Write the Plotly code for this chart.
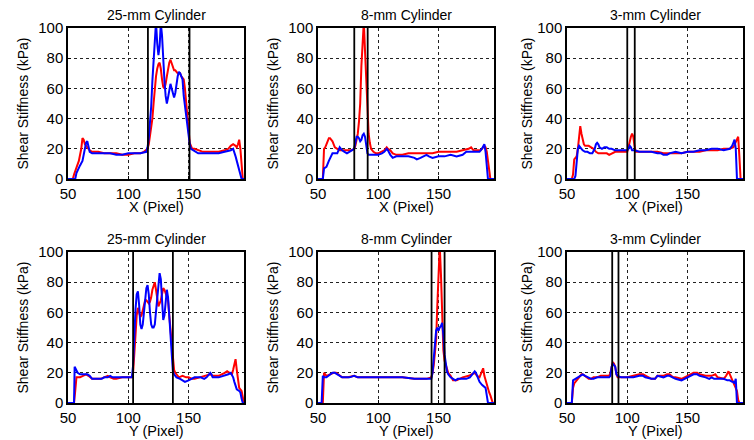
import plotly.graph_objects as go

# ---------------- data (pixel position, shear stiffness kPa) ----------------
titles = ["25-mm Cylinder", "8-mm Cylinder", "3-mm Cylinder",
          "25-mm Cylinder", "8-mm Cylinder", "3-mm Cylinder"]
xlabels = ["X (Pixel)"] * 3 + ["Y (Pixel)"] * 3
ylabel = "Shear Stiffness (kPa)"
xticks = [50, 100, 150]
yticks = [0, 20, 40, 60, 80, 100]

# boundaries of the inclusion (vertical black lines)
bounds = [[116.3, 150.8], [80.1, 91.2], [100.0, 106.2],
          [104.0, 137.0], [144.2, 155.0], [87.5, 92.7]]

red_25x = [(50,0),(54,0),(55,3),(57,8),(59,12),(61,20),(62,27),(63,26),(64,23),(66,21),(68,19),(70,18),(75,18),(80,17),(85,17),(90,17),(95,16),(100,16),(105,17),(110,17),(113,18),(115,19),(116,20),(117,23),(118,28),(119,34),(120,40),(121,50),(122,60),(123,68),(124,73),(125,76),(126,77),(127,73),(128,66),(129,61),(130,60),(131,63),(132,68),(133,73),(134,77),(135,79),(136,77),(137,74),(138,72),(139,72),(140,71),(141,70),(142,70),(143,70),(144,68),(145,67),(146,66),(147,60),(148,50),(149,40),(150,28),(151,24),(152,22),(153,20),(155,20),(158,19),(162,18),(170,18),(175,18),(180,19),(183,20),(185,22),(187,23),(189,22),(190,21),(191,23),(192,26),(193,20),(194,8),(195,0),(196,0)]
blue_25x = [(50,0),(56,0),(57,4),(58,6),(60,9),(62,12),(63,17),(64,22),(65,24),(66,25),(67,21),(68,18),(70,17),(75,17),(80,17),(85,17),(90,16),(95,16),(100,17),(105,17),(110,17),(115,18),(116,21),(117,27),(118,35),(119,48),(120,65),(121,82),(122,95),(123,104),(124,90),(125,82),(126,88),(127,103),(128,95),(129,78),(130,65),(131,55),(132,50),(133,54),(134,60),(135,63),(136,60),(137,56),(138,54),(139,57),(140,63),(141,68),(142,71),(143,70),(144,68),(145,66),(146,55),(147,48),(148,42),(149,35),(150,28),(151,23),(152,20),(154,19),(158,17),(165,17),(170,17),(175,17),(180,18),(185,19),(187,20),(188,18),(189,15),(190,12),(191,9),(192,5),(193,2),(194,0),(196,0)]

red_8x = [(50,0),(54,0),(55,20),(56,21),(57,23),(58,25),(59,27),(60,27),(61,26),(62,25),(63,23),(64,21),(66,20),(68,19),(70,19),(72,19),(75,19),(78,19),(80,20),(81,22),(82,26),(83,30),(84,38),(85,50),(86,75),(87,100),(88,104),(89,85),(90,62),(91,42),(92,30),(93,24),(94,20),(96,18),(98,17),(100,17),(103,18),(105,19),(107,21),(108,20),(110,19),(112,17),(115,16),(120,16),(125,17),(130,17),(135,17),(140,17),(145,17),(150,18),(155,18),(160,18),(165,18),(170,19),(175,20),(177,21),(179,19),(182,19),(185,19),(187,21),(188,22),(189,21),(190,18),(191,12),(192,5),(193,0),(196,0)]
blue_8x = [(50,0),(54,0),(55,7),(57,8),(59,12),(61,16),(62,17),(64,17),(66,17),(68,21),(69,20),(70,19),(72,18),(74,17),(76,18),(78,19),(80,20),(81,24),(82,28),(83,28),(84,27),(85,25),(86,26),(87,29),(88,30),(89,28),(90,22),(91,17),(92,16),(95,16),(100,16),(103,17),(105,18),(107,20),(108,19),(110,16),(112,14),(115,15),(120,15),(125,15),(130,14),(132,13),(135,14),(138,15),(140,16),(142,15),(145,14),(150,15),(155,15),(160,16),(165,15),(170,16),(173,18),(178,18),(184,18),(186,20),(188,23),(189,18),(190,10),(191,0),(196,0)]

red_3x = [(50,0),(54,0),(55,3),(56,13),(57,14),(58,15),(59,20),(60,28),(61,35),(62,30),(63,25),(64,23),(65,22),(68,22),(70,21),(72,20),(74,18),(76,17),(80,17),(83,17),(85,16),(88,17),(90,18),(95,18),(98,18),(100,18),(101,21),(102,25),(103,28),(104,30),(105,28),(106,22),(107,18),(110,18),(115,18),(120,18),(125,18),(130,17),(135,17),(140,17),(145,17),(150,18),(155,18),(160,18),(165,19),(170,19),(175,19),(180,20),(185,20),(188,21),(189,23),(190,25),(191,27),(192,28),(193,15),(194,0),(196,0)]
blue_3x = [(50,0),(56,0),(57,2),(58,15),(59,20),(60,22),(61,21),(62,20),(63,19),(65,18),(67,18),(69,17),(71,17),(73,20),(74,23),(75,24),(76,23),(77,21),(79,20),(81,21),(83,21),(85,20),(87,20),(90,19),(95,19),(100,19),(101,20),(102,22),(103,21),(104,19),(106,19),(110,18),(115,18),(120,18),(125,17),(128,17),(130,16),(133,16),(135,17),(140,18),(145,17),(150,18),(155,18),(160,19),(165,19),(170,20),(175,20),(180,19),(185,20),(187,22),(188,24),(189,26),(190,20),(191,0),(196,0)]

red_25y = [(50,0),(55,0),(56,8),(57,17),(60,17),(62,18),(65,19),(67,18),(70,16),(73,16),(77,16),(80,17),(83,18),(85,17),(88,16),(90,16),(95,17),(100,17),(103,17),(104,20),(105,30),(106,45),(107,58),(108,63),(109,60),(110,57),(111,58),(112,62),(113,66),(114,68),(115,68),(116,67),(117,66),(118,67),(119,70),(120,75),(121,78),(122,80),(123,75),(124,68),(125,64),(126,66),(127,68),(128,72),(129,76),(130,75),(131,73),(132,71),(133,68),(134,58),(135,48),(136,40),(137,28),(138,22),(139,20),(140,19),(142,17),(145,18),(148,17),(150,17),(153,16),(155,16),(160,17),(165,18),(168,19),(170,18),(175,18),(180,20),(182,21),(184,20),(186,19),(187,22),(188,26),(189,29),(190,22),(191,14),(192,10),(194,8),(195,4),(196,0)]
blue_25y = [(50,0),(55,0),(55.5,24),(56,23),(57,21),(58,20),(60,19),(63,19),(66,19),(68,18),(70,16),(72,16),(75,16),(78,16),(80,17),(83,17),(85,18),(87,17),(90,17),(95,17),(100,17),(103,17),(104,25),(105,45),(106,62),(107,72),(108,74),(109,65),(110,52),(111,49),(112,52),(113,60),(114,70),(115,76),(116,78),(117,72),(118,60),(119,52),(120,50),(121,50),(122,52),(123,60),(124,70),(125,80),(126,86),(127,82),(128,65),(129,55),(130,58),(131,66),(132,75),(133,70),(134,57),(135,45),(136,28),(137,21),(138,19),(140,17),(143,16),(145,15),(147,14),(150,15),(152,16),(155,17),(160,17),(163,16),(165,17),(167,19),(168,20),(169,19),(170,17),(175,17),(180,18),(183,19),(185,20),(187,17),(188,14),(189,11),(190,9),(192,8),(193,7),(194,3),(195,0),(196,0)]

red_8y = [(50,0),(54,0),(55,20),(56,19),(57,18),(60,19),(63,20),(65,20),(67,19),(70,17),(75,17),(80,18),(83,17),(85,17),(90,17),(100,17),(110,17),(120,17),(130,16),(140,16),(144,17),(145,20),(146,25),(147,32),(148,42),(149,65),(150,98),(151,104),(152,85),(153,60),(154,35),(155,28),(156,25),(157,22),(158,20),(160,18),(162,15),(165,15),(167,16),(170,17),(175,18),(178,19),(180,20),(181,19),(182,18),(184,17),(185,19),(186,22),(187,23),(188,18),(189,15),(190,12),(191,10),(192,7),(193,5),(194,3),(195,0),(196,0)]
blue_8y = [(50,0),(53,0),(54,18),(55,17),(57,17),(59,18),(62,20),(64,20),(66,19),(68,18),(70,17),(73,17),(76,17),(80,18),(83,17),(85,17),(90,17),(100,17),(110,17),(120,17),(130,16),(140,16),(144,16),(145,20),(146,28),(147,38),(148,48),(149,50),(150,48),(151,50),(152,51),(153,53),(154,45),(155,32),(156,25),(157,21),(158,19),(160,17),(162,16),(164,15),(166,16),(168,16),(170,16),(173,16),(176,17),(178,19),(180,21),(181,20),(182,18),(184,14),(186,12),(188,11),(189,10),(190,5),(191,0),(196,0)]

red_3y = [(50,0),(54,0),(55,10),(56,13),(57,14),(58,15),(60,17),(62,19),(63,19),(65,18),(67,17),(68,16),(70,16),(72,17),(75,17),(78,18),(80,18),(85,18),(86,20),(87,25),(88,27),(89,26),(90,24),(91,19),(92,17),(95,17),(100,17),(105,18),(110,19),(113,19),(115,18),(120,16),(123,16),(125,18),(130,18),(133,19),(135,19),(138,17),(140,17),(145,16),(150,18),(155,20),(158,20),(160,19),(165,18),(170,18),(173,19),(175,17),(180,16),(182,18),(184,21),(185,19),(187,15),(189,12),(190,10),(191,8),(192,2),(193,0),(196,0)]
blue_3y = [(50,0),(54,0),(55,15),(57,16),(58,17),(60,18),(62,19),(63,19),(65,18),(67,17),(70,16),(72,16),(75,17),(80,17),(85,17),(86,18),(87,24),(88,26),(89,25),(90,24),(91,19),(92,18),(95,17),(100,17),(105,17),(110,18),(113,18),(115,17),(120,16),(123,16),(125,18),(130,17),(133,18),(135,18),(138,17),(140,16),(145,15),(150,17),(155,19),(158,19),(160,18),(165,17),(168,16),(170,17),(172,16),(175,16),(180,16),(183,15),(185,15),(187,14),(188,14),(189,13),(190,16),(191,0),(196,0)]

red_series = [red_25x, red_8x, red_3x, red_25y, red_8y, red_3y]
blue_series = [blue_25x, blue_8x, blue_3x, blue_25y, blue_8y, blue_3y]

# ---------------- layout geometry ----------------
# page body has an 8px margin, so figure coords = screen coords - 8
OFF = 8
W, H = 754 - OFF, 440 - OFF
col_px = [(68, 244), (318, 494), (567, 743)]     # screen px
row_px = [(28, 179), (252, 403)]                 # screen px
ytitle_off = [46, 46, 41]
FONT = "Liberation Sans, Arial, sans-serif"


def fx(px):
    return (px - OFF) / W


def fy(py):
    return 1 - (py - OFF) / H


fig = go.Figure()
annotations = []
shapes = []

for i in range(6):
    r, c = divmod(i, 3)
    n = i + 1
    xa = "xaxis" if n == 1 else f"xaxis{n}"
    ya = "yaxis" if n == 1 else f"yaxis{n}"
    xr = "x" if n == 1 else f"x{n}"
    yr = "y" if n == 1 else f"y{n}"
    x0, x1 = col_px[c]
    top, bot = row_px[r]
    axis_common = dict(
        showline=True, mirror=True, linecolor="black", linewidth=1.5,
        showgrid=True, gridcolor="#222222", gridwidth=1, griddash="3px,3px",
        zeroline=False, ticks="inside", ticklen=3, tickcolor="black",
        automargin=False,
        tickfont=dict(family=FONT, size=15, color="black"),
    )
    fig.update_layout(**{
        xa: dict(domain=[fx(x0), fx(x1)], range=[50, 196], tickvals=xticks,
                 anchor=yr, **axis_common),
        ya: dict(domain=[fy(bot), fy(top)], range=[0, 100], tickvals=yticks,
                 anchor=xr, **axis_common),
    })
    for b in bounds[i]:
        shapes.append(dict(type="line", xref=xr, yref=yr, x0=b, x1=b, y0=0, y1=100,
                           line=dict(color="black", width=1.8), layer="above"))
    rx, ry = zip(*red_series[i])
    bx, by = zip(*blue_series[i])
    fig.add_trace(go.Scatter(x=rx, y=ry, mode="lines", xaxis=xr, yaxis=yr,
                             line=dict(color="#ff0000", width=2), showlegend=False))
    fig.add_trace(go.Scatter(x=bx, y=by, mode="lines", xaxis=xr, yaxis=yr,
                             line=dict(color="#0000ff", width=2), showlegend=False))
    cx = fx((x0 + x1) / 2)
    annotations.append(dict(text=titles[i], x=cx, y=fy(top - 13), xref="paper",
                            yref="paper", showarrow=False, xanchor="center", yanchor="middle",
                            font=dict(family=FONT, size=14, color="black")))
    annotations.append(dict(text=xlabels[i], x=cx, y=fy(bot + 28), xref="paper",
                            yref="paper", showarrow=False, xanchor="center", yanchor="middle",
                            font=dict(family=FONT, size=14.5, color="black")))
    annotations.append(dict(text=ylabel, x=fx(x0 - ytitle_off[c]), y=fy((top + bot) / 2),
                            xref="paper", yref="paper", showarrow=False, textangle=-90,
                            xanchor="center", yanchor="middle",
                            font=dict(family=FONT, size=14, color="black")))

fig.update_layout(width=W, height=H, margin=dict(l=0, r=0, t=0, b=0),
                  paper_bgcolor="white", plot_bgcolor="white",
                  annotations=annotations, shapes=shapes, showlegend=False)

fig.write_html("out.html")
